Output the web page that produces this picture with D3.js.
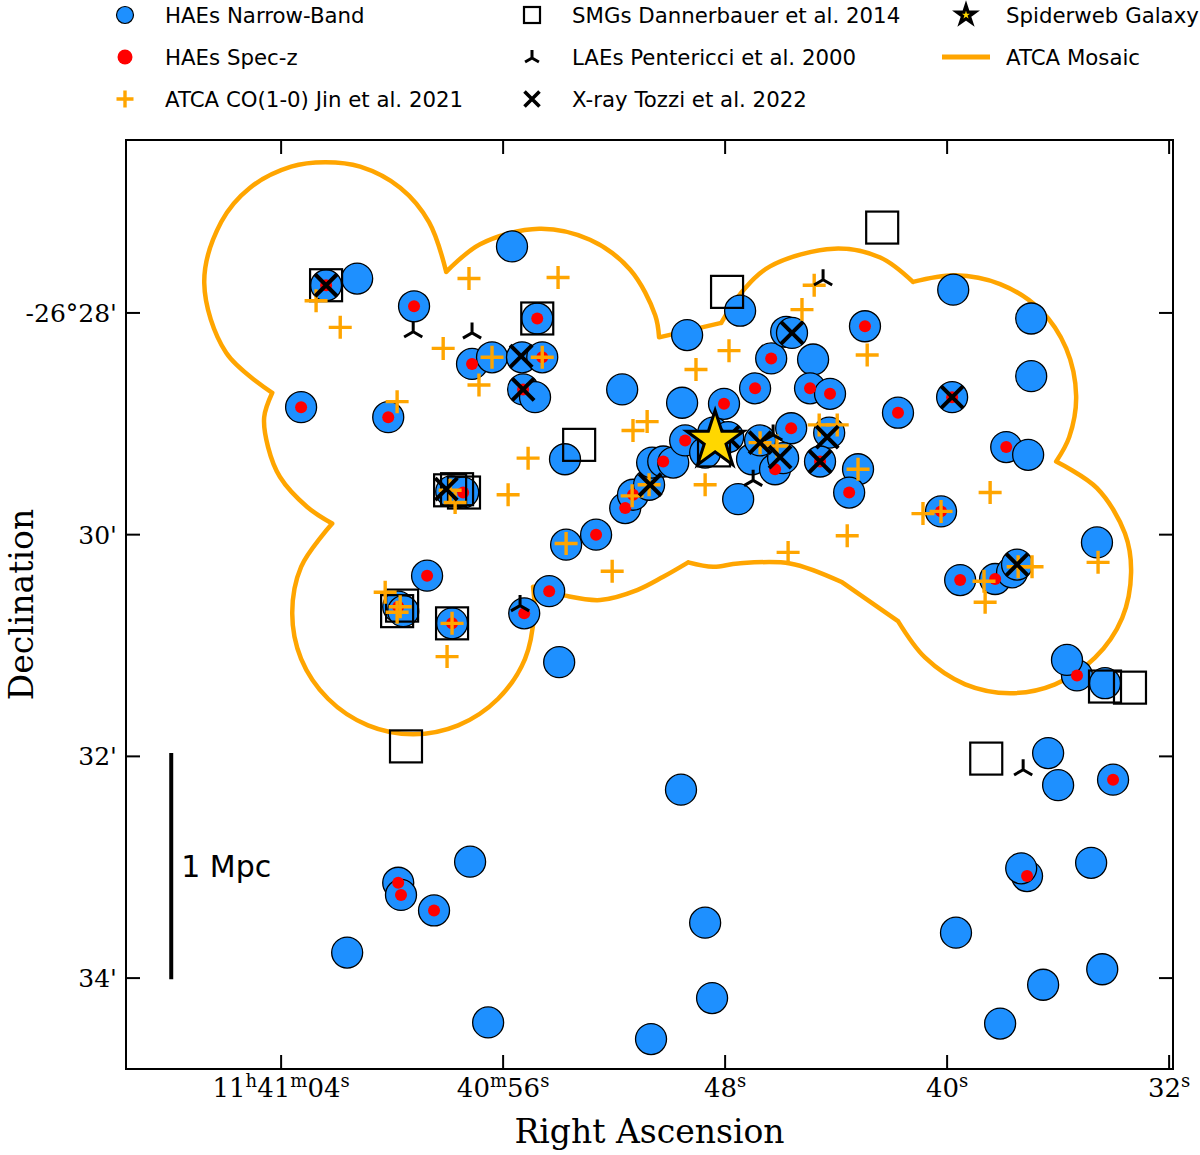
<!DOCTYPE html>
<html>
<head>
<meta charset="utf-8">
<script src="https://cdn.jsdelivr.net/npm/d3@7"></script>
<style>
  body { margin: 0; background: #fff; }
  svg { display: block; }
  .tick-label { font-family: "DejaVu Serif", serif; font-size: 25px; fill: #000; }
  .axis-title { font-family: "DejaVu Serif", serif; font-size: 33px; fill: #000; }
  .legend text { font-family: "DejaVu Sans", sans-serif; font-size: 21.3px; fill: #000; }
  .bar-label { font-family: "DejaVu Sans", sans-serif; font-size: 30px; fill: #000; }
</style>
</head>
<body>
<div id="chart"></div>
<script>
// positions: RA in seconds after 11h40m, Dec in arcmin south of -26 deg
const haeNB = [
  [62.38,27.75],[61.26,27.69],[59.21,27.94],[55.68,27.40],[54.77,28.05],[57.12,28.46],[56.40,28.40],[55.32,28.40],[54.59,28.40],[55.28,28.69],
  [54.85,28.76],[63.28,28.85],[60.14,28.94],[57.87,29.61],[57.44,29.62],[53.77,29.32],[58.74,30.37],[59.78,30.65],[59.60,30.69],[57.84,30.80],
  [55.24,30.71],[54.34,30.51],[53.98,31.15],[53.73,30.09],[52.65,30.00],[51.60,29.76],[51.32,29.64],[50.74,29.55],[50.63,29.35],[50.23,29.34],
  [49.87,29.35],[51.71,28.69],[49.55,28.81],[49.37,28.20],[49.44,29.15],[48.04,28.82],[46.92,28.68],[46.34,28.41],[45.80,28.17],[45.59,28.18],
  [44.83,28.42],[44.94,28.68],[44.22,28.73],[42.96,28.12],[41.77,28.90],[45.62,29.04],[44.25,29.08],[44.58,29.34],[43.21,29.41],[43.53,29.62],
  [47.53,29.68],[47.03,29.32],[46.20,29.41],[45.91,29.31],[46.74,29.15],[48.72,29.26],[48.43,29.08],[47.89,29.12],[47.46,27.98],[39.78,27.79],
  [36.97,28.05],[36.97,28.57],[39.82,28.76],[37.87,29.21],[37.08,29.28],[40.22,29.79],[39.53,30.41],[38.27,30.40],[37.66,30.34],[37.48,30.27],
  [34.60,30.07],[35.32,31.27],[35.68,31.13],[34.31,31.34],[36.36,31.97],[36.00,32.26],[34.02,32.21],[37.12,33.08],[37.33,33.01],[34.81,32.96],
  [39.68,33.59],[34.41,33.92],[36.54,34.06],[38.09,34.41],[49.59,32.30],[48.72,33.50],[48.47,34.18],[50.67,34.55],[56.54,34.40],[57.19,32.95],
  [59.78,33.14],[59.68,33.25],[58.49,33.39],[61.62,33.77]
];
const haeSpec = [
  [62.38,27.75],[59.21,27.94],[54.77,28.05],[57.12,28.46],[54.59,28.40],[55.28,28.69],[63.28,28.85],[60.14,28.94],[57.44,29.62],[58.74,30.37],
  [59.78,30.65],[57.84,30.80],[55.24,30.71],[54.34,30.51],[52.65,30.00],[51.60,29.76],[51.32,29.64],[50.23,29.34],[49.44,29.15],[48.04,28.82],
  [46.92,28.68],[46.34,28.41],[44.94,28.68],[44.22,28.73],[42.96,28.12],[41.77,28.90],[45.62,29.04],[44.58,29.34],[43.53,29.62],[46.20,29.41],
  [39.82,28.76],[37.87,29.21],[40.22,29.79],[39.53,30.41],[38.27,30.40],[35.32,31.27],[34.02,32.21],[37.12,33.08],[59.78,33.14],[59.68,33.25],
  [58.49,33.39]
];
const coJin = [
  [62.74,27.89],[61.87,28.13],[57.23,27.69],[54.02,27.68],[58.16,28.32],[56.40,28.40],[54.59,28.40],[56.87,28.65],[59.82,28.80],[55.10,29.31],
  [55.82,29.64],[57.91,29.60],[57.73,29.71],[60.25,30.52],[59.71,30.65],[59.82,30.70],[57.84,30.80],[58.02,31.10],[53.73,30.08],[52.07,30.33],
  [51.35,29.65],[50.74,29.55],[48.72,29.55],[45.73,30.16],[43.60,30.01],[40.87,29.81],[40.22,29.79],[38.45,29.62],[38.67,30.42],[38.63,30.61],
  [37.44,30.29],[36.94,30.29],[34.56,30.25],[47.86,28.34],[49.05,28.51],[50.81,28.98],[51.32,29.06],[48.43,29.16],[46.74,29.17],[46.13,29.20],
  [44.61,29.01],[43.96,29.01],[43.21,29.41],[45.23,27.97],[42.88,28.38],[44.79,27.75]
];
const smgs = [
  [62.38,27.75],[54.77,28.05],[47.93,27.81],[42.34,27.23],[53.26,29.19],[57.91,29.60],[57.66,29.59],[57.41,29.62],[59.82,30.69],[59.64,30.64],
  [57.84,30.80],[48.40,29.24],[59.50,31.91],[38.59,32.02],[34.31,31.37],[33.41,31.38]
];
const laes = [
  [59.24,28.17],[57.12,28.18],[44.47,27.70],[37.26,32.12],[55.39,30.64],[46.99,29.51],[46.27,29.10]
];
const xray = [
  [62.38,27.75],[55.35,28.39],[55.28,28.69],[45.59,28.18],[39.82,28.76],[47.89,29.12],[46.74,29.17],[46.02,29.30],[44.32,29.12],[44.58,29.34],
  [50.70,29.55],[37.48,30.27],[58.05,29.59]
];
const spiderweb = [[48.36,29.15]];

// ATCA mosaic outline, split into pieces at the cusps
const mosaic = [
  [[64.32,28.72],[65.98,28.36],[66.77,27.73],[66.16,27.18],[65.12,26.87],[63.64,26.68],[62.41,26.64],[61.15,26.68],[59.71,26.87],[58.67,27.18],[58.05,27.63]],
  [[58.05,27.63],[56.83,27.38],[54.70,27.24],[52.87,27.34],[51.42,27.61],[50.52,28.02],[50.38,28.22]],
  [[50.38,28.22],[48.14,28.09]],
  [[48.14,28.09],[47.46,27.83],[46.38,27.58],[44.07,27.42],[42.41,27.50],[41.23,27.72]],
  [[41.23,27.72],[39.71,27.66],[38.09,27.74],[36.65,27.97],[35.71,28.32],[35.35,28.75],[35.60,29.12],[36.07,29.34]],
  [[36.07,29.34],[34.60,29.58],[33.59,29.99],[33.37,30.34],[33.69,30.75],[34.67,31.11],[36.11,31.35],[37.73,31.43],[39.35,31.35],[40.79,31.11],[41.77,30.78]],
  [[41.77,30.78],[43.78,30.43]],
  [[43.78,30.43],[45.66,30.26],[47.53,30.26],[48.43,30.29],[49.33,30.25]],
  [[49.33,30.25],[50.23,30.38],[51.17,30.50],[52.50,30.59],[53.77,30.55],[54.92,30.47]],
  [[54.92,30.47],[54.88,30.71],[55.21,31.12],[56.18,31.48],[57.62,31.72],[59.24,31.80],[60.87,31.72],[62.31,31.48],[63.28,31.12],[63.60,30.71],[63.28,30.29],[62.16,29.90]],
  [[62.16,29.90],[63.06,29.75],[64.04,29.48],[64.47,29.21],[64.61,28.94],[64.32,28.72]]
];

const raTicks = [64, 56, 48, 40, 32];
const raLabels = ["11h41m04s", "40m56s", "48s", "40s", "32s"];
const decTicks = [28, 30, 32, 34];
const decLabels = ["-26°28'", "30'", "32'", "34'"];
const scaleBar = { ra: 67.96, dec: [31.97, 34.01], label: "1 Mpc" };

const legendItems = [
  { kind: "nb", label: "HAEs Narrow-Band" },
  { kind: "spec", label: "HAEs Spec-z" },
  { kind: "co", label: "ATCA CO(1-0) Jin et al. 2021" },
  { kind: "smg", label: "SMGs Dannerbauer et al. 2014" },
  { kind: "lae", label: "LAEs Pentericci et al. 2000" },
  { kind: "xray", label: "X-ray Tozzi et al. 2022" },
  { kind: "star", label: "Spiderweb Galaxy" },
  { kind: "mosaic", label: "ATCA Mosaic" }
];

const width = 1200, height = 1155;
const margin = { top: 140, right: 27, bottom: 86, left: 126 };
const blue = "#1e90ff", red = "#ff0000", orange = "#ffa500", gold = "#ffd700";

const svg = d3.select("#chart").append("svg")
  .attr("width", width)
  .attr("height", height);

const x = d3.scaleLinear().domain([69.59, 31.86]).range([margin.left, width - margin.right]);
const y = d3.scaleLinear().domain([26.44, 34.82]).range([margin.top, height - margin.bottom]);

const plusPath = h => `M${-h},0H${h}M0,${-h}V${h}`;
const crossPath = h => `M${-h},${-h}L${h},${h}M${-h},${h}L${h},${-h}`;
const triPath = l => `M0,0V${-l}M0,0L${-0.866 * l},${0.5 * l}M0,0L${0.866 * l},${0.5 * l}`;
const starPath = r => d3.symbol(d3.symbolStar, (r * r) / 0.8908130915)();

const pos = d => `translate(${x(d[0])},${y(d[1])})`;

// mosaic outline
const line = d3.line().x(d => x(d[0])).y(d => y(d[1])).curve(d3.curveCatmullRom.alpha(0.5));
svg.append("path")
  .attr("d", mosaic.map(seg => line(seg)).join(""))
  .attr("fill", "none")
  .attr("stroke", orange)
  .attr("stroke-width", 4.5)
  .attr("stroke-linecap", "round")
  .attr("stroke-linejoin", "round");

const plot = svg.append("g");

plot.append("g").selectAll("circle").data(haeNB).join("circle")
  .attr("cx", d => x(d[0])).attr("cy", d => y(d[1]))
  .attr("r", 15.5)
  .attr("fill", blue).attr("stroke", "#000").attr("stroke-width", 1.3);

plot.append("g").selectAll("circle").data(haeSpec).join("circle")
  .attr("cx", d => x(d[0])).attr("cy", d => y(d[1]))
  .attr("r", 6)
  .attr("fill", red);

plot.append("g").selectAll("rect").data(smgs).join("rect")
  .attr("x", d => x(d[0]) - 16).attr("y", d => y(d[1]) - 16)
  .attr("width", 32).attr("height", 32)
  .attr("fill", "none").attr("stroke", "#000").attr("stroke-width", 2.2);

plot.append("g").selectAll("path").data(coJin).join("path")
  .attr("transform", pos)
  .attr("d", plusPath(11.5))
  .attr("stroke", orange).attr("stroke-width", 3.4).attr("fill", "none");

plot.append("g").selectAll("path").data(laes).join("path")
  .attr("transform", pos)
  .attr("d", triPath(10.5))
  .attr("stroke", "#000").attr("stroke-width", 3).attr("fill", "none");

plot.append("g").selectAll("path").data(xray).join("path")
  .attr("transform", pos)
  .attr("d", crossPath(11))
  .attr("stroke", "#000").attr("stroke-width", 4).attr("fill", "none");

plot.append("g").selectAll("path").data(spiderweb).join("path")
  .attr("transform", pos)
  .attr("d", starPath(30))
  .attr("fill", gold).attr("stroke", "#000").attr("stroke-width", 3).attr("stroke-linejoin", "miter");

// scale bar
svg.append("line")
  .attr("x1", x(scaleBar.ra)).attr("x2", x(scaleBar.ra))
  .attr("y1", y(scaleBar.dec[0])).attr("y2", y(scaleBar.dec[1]))
  .attr("stroke", "#000").attr("stroke-width", 4);
svg.append("text").attr("class", "bar-label")
  .attr("x", x(scaleBar.ra) + 10)
  .attr("y", y((scaleBar.dec[0] + scaleBar.dec[1]) / 2) + 11)
  .text(scaleBar.label);

// frame and ticks
const x0 = margin.left, x1 = width - margin.right, y0 = margin.top, y1 = height - margin.bottom;
svg.append("rect")
  .attr("x", x0).attr("y", y0).attr("width", x1 - x0).attr("height", y1 - y0)
  .attr("fill", "none").attr("stroke", "#000").attr("stroke-width", 2);

const ticks = svg.append("g").attr("stroke", "#000").attr("stroke-width", 2);
raTicks.forEach(t => {
  ticks.append("line").attr("x1", x(t)).attr("x2", x(t)).attr("y1", y1).attr("y2", y1 - 14);
  ticks.append("line").attr("x1", x(t)).attr("x2", x(t)).attr("y1", y0).attr("y2", y0 + 14);
});
decTicks.forEach(t => {
  ticks.append("line").attr("x1", x0).attr("x2", x0 + 14).attr("y1", y(t)).attr("y2", y(t));
  ticks.append("line").attr("x1", x1).attr("x2", x1 - 14).attr("y1", y(t)).attr("y2", y(t));
});

raTicks.forEach((t, i) => {
  const txt = svg.append("text").attr("class", "tick-label")
    .attr("x", x(t)).attr("y", y1 + 28)
    .attr("text-anchor", "middle");
  let up = false;
  raLabels[i].match(/\d+|[hms]/g).forEach(p => {
    const sup = /[hms]/.test(p);
    txt.append("tspan")
      .attr("font-size", sup ? 18 : 26)
      .attr("dy", sup ? (up ? 0 : -10) : (up ? 10 : 0))
      .text(p);
    up = sup;
  });
});

decTicks.forEach((t, i) => {
  svg.append("text").attr("class", "tick-label")
    .attr("x", x0 - 9).attr("y", y(t)).attr("dy", "0.36em")
    .attr("text-anchor", "end")
    .text(decLabels[i]);
});

svg.append("text").attr("class", "axis-title")
  .attr("x", (x0 + x1) / 2).attr("y", 1143)
  .attr("text-anchor", "middle")
  .text("Right Ascension");
svg.append("text").attr("class", "axis-title")
  .attr("transform", `translate(33,${(y0 + y1) / 2}) rotate(-90)`)
  .attr("text-anchor", "middle")
  .text("Declination");

// legend, three columns filled top to bottom
const colX = [125, 532, 966];
const rowY = [15, 57, 99];
const legend = svg.append("g").attr("class", "legend");
legendItems.forEach((item, i) => {
  const g = legend.append("g")
    .attr("transform", `translate(${colX[Math.floor(i / 3)]},${rowY[i % 3]})`);
  switch (item.kind) {
    case "nb":
      g.append("circle").attr("r", 8.5).attr("fill", blue).attr("stroke", "#000").attr("stroke-width", 1.2);
      break;
    case "spec":
      g.append("circle").attr("r", 7.5).attr("fill", red);
      break;
    case "co":
      g.append("path").attr("d", plusPath(8.5)).attr("stroke", orange).attr("stroke-width", 3.4);
      break;
    case "smg":
      g.append("rect").attr("x", -8).attr("y", -8).attr("width", 16).attr("height", 16)
        .attr("fill", "none").attr("stroke", "#000").attr("stroke-width", 2.2);
      break;
    case "lae":
      g.append("path").attr("d", triPath(8)).attr("transform", "translate(0,1)")
        .attr("stroke", "#000").attr("stroke-width", 3).attr("fill", "none");
      break;
    case "xray":
      g.append("path").attr("d", crossPath(7.5)).attr("stroke", "#000").attr("stroke-width", 3.6);
      break;
    case "star":
      g.append("path").attr("d", starPath(9.5)).attr("fill", gold).attr("stroke", "#000").attr("stroke-width", 3.2);
      break;
    case "mosaic":
      g.append("line").attr("x1", -24).attr("x2", 24).attr("stroke", orange).attr("stroke-width", 5);
      break;
  }
  g.append("text").attr("x", 40).attr("dy", "0.36em").text(item.label);
});
</script>
</body>
</html>
